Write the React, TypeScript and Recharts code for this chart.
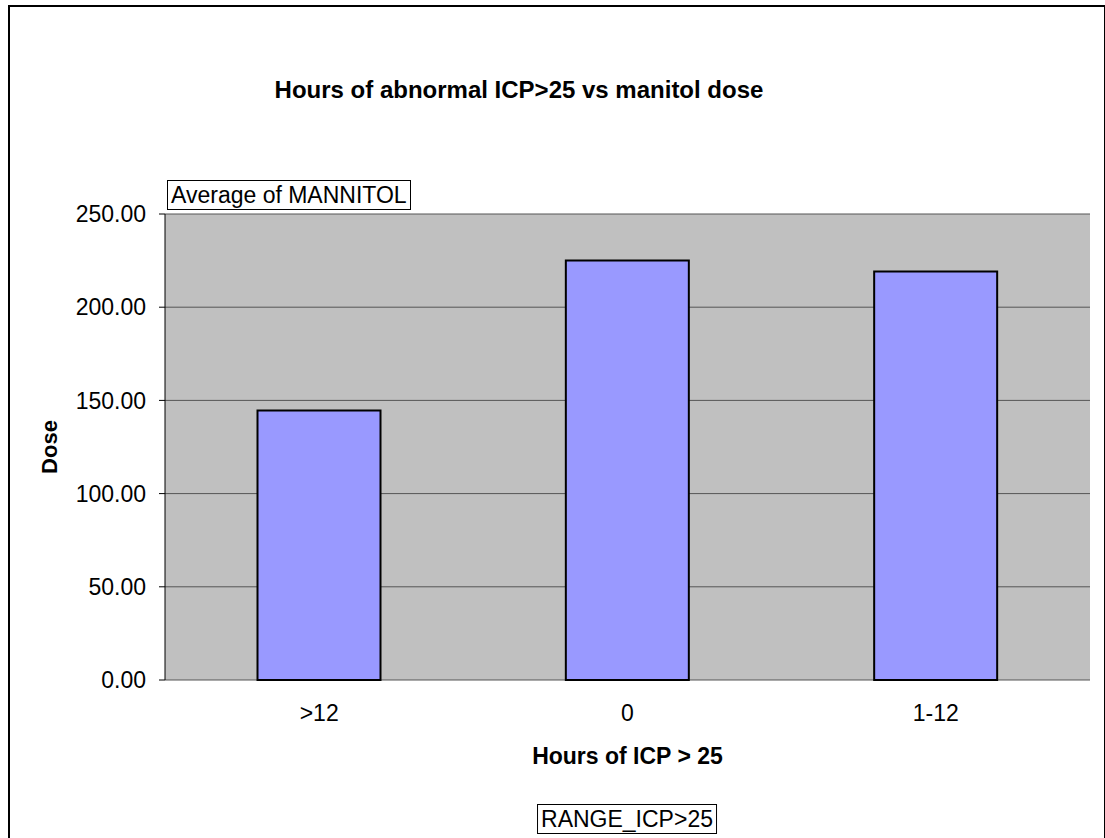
import React from "react";
import { BarChart, Bar, CartesianGrid, XAxis, YAxis, Label } from "recharts";

const ranges = [">12", "0", "1-12"];
const avgMannitol = [144.6, 225.1, 219.1];
const doseTicks = [0, 50, 100, 150, 200, 250];
const edgeTicks = [0, 1, 2, 3];

const data = ranges.map((range, i) => ({ range, dose: avgMannitol[i] }));

const font = "Arial, 'Liberation Sans', sans-serif";

const boxStyle: React.CSSProperties = {
  position: "absolute",
  border: "1px solid #000",
  background: "#fff",
  fontFamily: font,
  fontSize: 23,
  lineHeight: "28px",
  padding: "0 3px",
  whiteSpace: "nowrap",
};

export default function App() {
  return (
    <div style={{ position: "absolute", left: 0, top: 0, width: 1105, height: 838, overflow: "hidden", background: "#fff" }}>
      <div
        style={{
          position: "absolute",
          left: 8,
          top: 5,
          width: 1094,
          height: 860,
          borderLeft: "2px solid #000",
          borderTop: "2px solid #000",
          borderRight: "2px solid #000",
        }}
      />
      <div
        style={{
          position: "absolute",
          left: 0,
          width: 1038,
          top: 78,
          textAlign: "center",
          fontFamily: font,
          fontWeight: "bold",
          fontSize: 24,
          lineHeight: "24px",
        }}
      >
        Hours of abnormal ICP&gt;25 vs manitol dose
      </div>
      <div style={{ position: "absolute", left: 0, top: 0 }}>
        <BarChart
          width={1105}
          height={838}
          data={data}
          margin={{ top: 214, right: 15, left: 65, bottom: 0 }}
          barCategoryGap="30%"
          style={{ fontFamily: font }}
        >
          <CartesianGrid vertical={false} fill="#c0c0c0" stroke="#555" strokeWidth={1} />
          <XAxis
            xAxisId="edge"
            type="number"
            domain={[0, 3]}
            ticks={edgeTicks}
            tickFormatter={() => ""}
            height={0}
            tickSize={6}
            axisLine={{ stroke: "#000", strokeWidth: 1 }}
            tickLine={{ stroke: "#000" }}
          />
          <XAxis
            xAxisId="cat"
            dataKey="range"
            axisLine={false}
            tickLine={false}
            tickSize={0}
            tickMargin={25}
            height={158}
            tick={{ fill: "#000", fontSize: 23 }}
          >
            <Label
              content={({ viewBox }: any) => (
                <text
                  x={viewBox.x + viewBox.width / 2}
                  y={764}
                  textAnchor="middle"
                  fontWeight="bold"
                  fontSize={23}
                  fill="#000"
                >
                  Hours of ICP &gt; 25
                </text>
              )}
            />
          </XAxis>
          <YAxis
            domain={[0, 250]}
            ticks={doseTicks}
            width={100}
            tickFormatter={(v: number) => v.toFixed(2)}
            tick={{ fill: "#000", fontSize: 23 }}
            tickSize={6}
            tickMargin={13}
            axisLine={{ stroke: "#000" }}
            tickLine={{ stroke: "#000" }}
          >
            <Label
              content={({ viewBox }: any) => {
                const cx = 49;
                const cy = viewBox.y + viewBox.height / 2;
                return (
                  <text
                    x={cx}
                    y={cy}
                    transform={`rotate(-90, ${cx}, ${cy})`}
                    textAnchor="middle"
                    dominantBaseline="central"
                    fontWeight="bold"
                    fontSize={22}
                    fill="#000"
                  >
                    Dose
                  </text>
                );
              }}
            />
          </YAxis>
          <YAxis
            yAxisId="frame"
            orientation="right"
            width={0}
            tick={false}
            tickLine={false}
            axisLine={{ stroke: "#808080", strokeWidth: 2 }}
          />
          <Bar
            dataKey="dose"
            xAxisId="cat"
            fill="#9999ff"
            stroke="#000"
            strokeWidth={2}
            isAnimationActive={false}
          />
        </BarChart>
      </div>
      <div style={{ ...boxStyle, left: 167, top: 180 }}>Average of MANNITOL</div>
      <div style={{ ...boxStyle, left: 627, top: 804, transform: "translateX(-50%)" }}>RANGE_ICP&gt;25</div>
    </div>
  );
}
